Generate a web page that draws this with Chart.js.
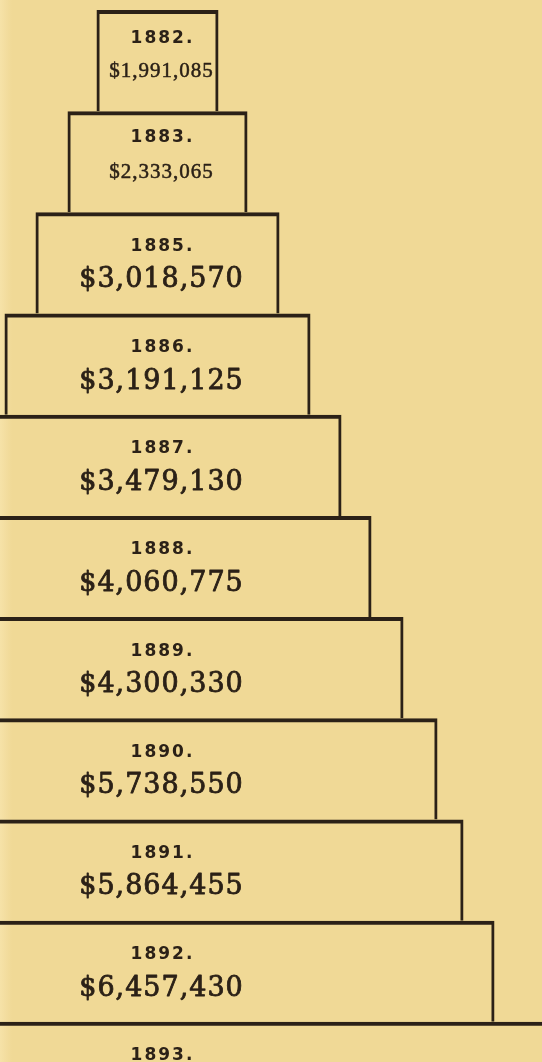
<!DOCTYPE html>
<html>
<head>
<meta charset="utf-8">
<script src="https://cdn.jsdelivr.net/npm/chart.js@4.4.1/dist/chart.umd.min.js"></script>
<style>
  html, body { margin: 0; padding: 0; overflow: hidden; background: #f0d996; }
  body { width: 542px; height: 1062px; }
  #wrap {
    position: relative; width: 542px; height: 1130px;
    background: linear-gradient(to right, #f6e2a8 0px, #f3dd9f 6px, #f0d996 12px, #f0d996 100%);
  }
</style>
</head>
<body>
<div id="wrap"><canvas id="c"></canvas></div>
<script>
// ---- data ----
const years = ['1882.', '1883.', '1885.', '1886.', '1887.', '1888.', '1889.', '1890.', '1891.', '1892.', '1893.'];
const amounts = ['$1,991,085', '$2,333,065', '$3,018,570', '$3,191,125', '$3,479,130',
                 '$4,060,775', '$4,300,330', '$5,738,550', '$5,864,455', '$6,457,430', null];
// half-extent of each stepped box, in the chart's own (unlabelled) width units
const stepHalfWidths = [61, 90, 122, 153, 184, 214, 246, 280, 306, 337, 420];

const ink = '#2b2117';

const stepLabels = {
  id: 'stepLabels',
  afterDatasetsDraw(chart) {
    const ctx = chart.ctx;
    const meta = chart.getDatasetMeta(0);
    const cx = chart.scales.x.getPixelForValue(0) + 4;
    ctx.save();
    ctx.fillStyle = ink;
    ctx.strokeStyle = ink;
    ctx.lineJoin = 'round';
    ctx.textAlign = 'center';
    ctx.textBaseline = 'middle';
    meta.data.forEach((bar, i) => {
      const p = bar.getProps(['y', 'height'], true);
      const top = p.y - p.height / 2;
      const compact = i < 2;
      ctx.font = 'bold 17px "DejaVu Sans"';
      ctx.letterSpacing = '2px';
      const yy = top + (i === 0 ? 29 : compact ? 26 : 34);
      ctx.fillText(years[i], cx + 1, yy);
      if (amounts[i]) {
        if (compact) {
          ctx.font = '21px "Liberation Serif"';
          ctx.letterSpacing = '1px';
          ctx.lineWidth = 0.5;
        } else {
          ctx.font = '27px "DejaVu Serif"';
          ctx.letterSpacing = '1px';
          ctx.lineWidth = 0.8;
        }
        const ay = top + (compact ? 61 : 68);
        ctx.fillText(amounts[i], cx, ay);
        ctx.strokeText(amounts[i], cx, ay);
      }
    });
    ctx.restore();
  }
};

new Chart(document.getElementById('c'), {
  type: 'bar',
  data: {
    labels: years,
    datasets: [{
      data: stepHalfWidths.map(h => [-h, h]),
      backgroundColor: 'rgba(0,0,0,0)',
      borderColor: ink,
      borderWidth: { top: 4, left: 3, right: 3, bottom: 0 },
      borderSkipped: false,
      inflateAmount: 0,
      barPercentage: 1,
      categoryPercentage: 1
    }]
  },
  options: {
    indexAxis: 'y',
    responsive: true,
    maintainAspectRatio: false,
    animation: false,
    layout: { padding: { top: 10, bottom: 7, left: 0, right: 0 } },
    plugins: { legend: { display: false }, tooltip: { enabled: false } },
    scales: {
      x: { type: 'linear', display: false, min: -157.5, max: 384.5 },
      y: { display: false }
    }
  },
  plugins: [stepLabels]
});
</script>
</body>
</html>
